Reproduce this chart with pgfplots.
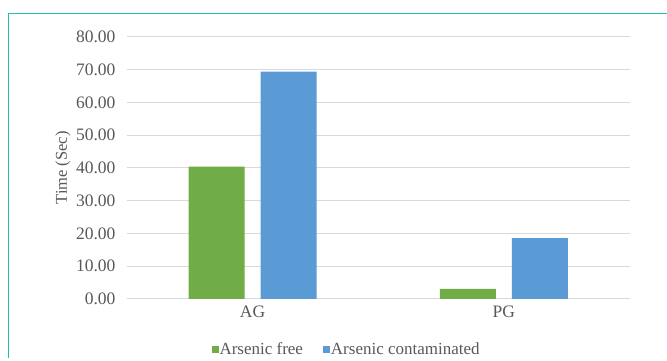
\documentclass[border=0pt]{standalone}
\usepackage{pgfplots}
\pgfplotsset{compat=1.18}
\usepackage{fontspec}
\setmainfont{Liberation Serif}
\definecolor{frame}{HTML}{1FC0AE}
\definecolor{gbar}{HTML}{70AD47}
\definecolor{bbar}{HTML}{5B9BD5}
\definecolor{txt}{HTML}{595959}
\definecolor{grd}{HTML}{D9D9D9}
\begin{document}
\begin{tikzpicture}[x=1pt,y=1pt]
\fill[white] (0,0) rectangle (667,358);
\draw[frame, line width=1pt] (8.5,0) -- (8.5,344) -- (667,344);
\begin{axis}[
  at={(127pt,59pt)}, anchor=south west,
  scale only axis, width=503pt, height=262pt,
  xmin=-0.5, xmax=1.5, ymin=0, ymax=80,
  ytick={0,10,...,80},
  xtick={0,1}, xticklabels={AG,PG},
  axis line style={draw=none},
  major tick length=0pt,
  ymajorgrids, grid style={grd, line width=1pt},
  /pgf/number format/assume math mode=true,
  yticklabel={\pgfmathprintnumber[fixed,fixed zerofill,precision=2]{\tick}},
  tick label style={font=\fontsize{17.5}{19}\selectfont, text=txt},
  yticklabel style={xshift=-8pt},
  xticklabel style={yshift=-4pt},
  ylabel={Time (Sec)},
  ylabel style={font=\fontsize{16.5}{18}\selectfont, text=txt, at={(axis description cs:-0.112,0.5)}, anchor=south, inner sep=0pt},
  legend style={at={(0.437,0)}, anchor=center, yshift=-51pt, draw=none, fill=none,
    font=\fontsize{17}{19}\selectfont, text=txt, legend columns=2,
    /tikz/every odd column/.append style={column sep=-1pt},
    /tikz/every even column/.append style={column sep=18pt}},
  legend image code/.code={\fill[#1] (0pt,-3.5pt) rectangle (7pt,3.5pt);},
]
\addplot[ybar, bar width=56pt, bar shift=-36pt, fill=gbar, draw=none] coordinates {(0,40.4) (1,3.0)};
\addlegendentry{Arsenic free}
\addplot[ybar, bar width=56pt, bar shift=36pt, fill=bbar, draw=none] coordinates {(0,69.4) (1,18.5)};
\addlegendentry{Arsenic contaminated}
\end{axis}
\end{tikzpicture}
\end{document}
